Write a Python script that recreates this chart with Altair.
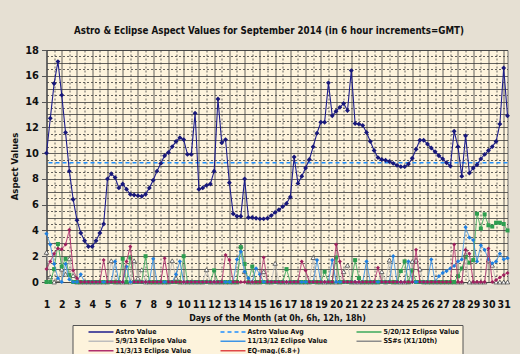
import altair as alt
import pandas as pd

FONT = "DejaVu Sans Condensed"

# ---- data (one value every 6 hours, starting Sep 1 0h) ----
astro = [
    10.0, 12.7, 15.4, 17.1, 14.5, 11.6, 8.6, 6.4,
    4.8, 3.8, 3.2, 2.75, 2.75, 3.2, 3.8, 4.5,
    8.0, 8.4, 8.1, 7.3, 7.6, 7.2, 6.8, 6.75,
    6.7, 6.65, 6.8, 7.3, 7.9, 8.6, 9.2, 9.8,
    10.05, 10.5, 10.9, 11.2, 11.05, 9.9, 9.9, 13.1,
    7.2, 7.3, 7.5, 7.6, 8.6, 14.2, 10.8, 11.05,
    7.7, 5.3, 5.1, 5.1, 8.0, 5.0, 5.0, 4.95,
    4.9, 4.9, 4.95, 5.15, 5.4, 5.6, 5.85, 6.1,
    6.6, 9.7, 7.65, 8.2, 8.85, 9.5, 10.5, 11.55,
    12.4, 12.4, 15.45, 12.9, 13.25, 13.55, 13.85, 13.3,
    16.4, 12.3, 12.25, 12.15, 11.6, 10.9, 10.2, 9.65,
    9.5, 9.45, 9.35, 9.2, 9.05, 8.95, 8.95, 9.15,
    9.6, 10.3, 11.0, 11.0, 10.7, 10.4, 10.1, 9.8,
    9.55, 9.25, 9.0, 11.7, 10.5, 8.2, 11.35, 8.45,
    8.85, 9.1, 9.55, 9.9, 10.2, 10.5, 10.9, 12.25,
    16.6, 12.9,
]
astro_avg = [9.25]

ecl_2012_05_20 = [
    0, 0, 1.0, 2.95, 1.2, 1.8, 0.55, 0,
    0, 0, 0, 0, 0, 0, 0, 0,
    0, 0, 0, 0, 1.8, 0, 1.9, 0,
    0, 0, 2.0, 0, 0, 0, 0, 0,
    0, 0, 0, 0, 2.0, 0, 0, 0,
    0, 0, 0, 0, 0.9, 0, 0, 0,
    0, 0, 0, 2.7, 1.4, 0, 1.2, 0,
    0, 0, 0, 0, 0, 0, 0, 1.0,
    0, 0, 0, 0, 0, 0, 0, 0,
    0, 0.8, 0, 0, 1.9, 0, 0, 0,
    0, 1.7, 0.3, 0, 0, 0, 0, 0,
    0, 0, 0, 0, 0, 0.85, 1.6, 0,
    0.9, 0, 0, 0, 0, 0, 0, 0,
    0, 0, 0, 0, 0.45, 1.05, 1.95, 1.5,
    1.7, 5.3, 4.15, 5.25, 4.4, 4.3, 4.6, 4.6,
    4.5, 4.0,
]

ecl_2013_05_09 = [
    2.3, 0.4, 0, 0.2, 1.0, 0.6, 1.8, 0.5,
    0, 0, 0, 0, 0, 0, 0, 0,
    0, 1.65, 0, 0, 0, 0, 0, 1.65,
    0.3, 0.95, 0, 0, 0, 0, 0, 0,
    0, 1.65, 0.3, 0, 0, 0, 0, 0,
    0, 0, 0.95, 0, 0, 0, 0, 0,
    0, 0, 0, 2.8, 0.8, 0, 0, 0,
    0, 0.8, 0, 0, 1.45, 0, 0, 0,
    0, 0, 0, 0, 0, 0, 1.9, 0,
    0, 0, 0, 0, 0, 0, 0.8, 1.3,
    0, 0, 0, 0, 0, 0, 0, 0,
    0.8, 0, 1.7, 0, 0, 0, 0, 0,
    1.6, 1.7, 1.0, 0, 0, 0, 0, 0,
    0, 0, 0, 0, 0, 0, 2.15, 0,
    0, 0, 0, 0, 1.7, 1.3, 0, 0,
    0, 0,
]

ecl_2012_11_13 = [
    3.75, 2.9, 1.4, 0.3, 0, 1.4, 0.2, 0,
    0, 0.6, 0, 0, 0, 0, 0, 0,
    0, 0, 1.6, 0, 0, 1.2, 0, 0,
    0, 0, 0, 0, 1.8, 0, 0, 0,
    0, 0, 0.6, 1.6, 0, 0, 0, 0,
    0, 0, 0, 0, 0, 0, 0, 0,
    0, 0, 1.75, 2.35, 0.8, 0.3, 0, 1.05,
    0.6, 0, 0, 0, 0, 0, 0, 0,
    0, 0, 0, 0, 0, 0, 0, 1.7,
    0, 0, 0, 1.7, 0, 0, 0, 0,
    0, 0, 0, 0, 1.6, 0, 0, 0,
    0, 0, 0, 2.0, 0, 0, 0, 1.6,
    0, 0, 0, 0, 0, 1.75, 0, 0.45,
    0.7, 0.85, 1.05, 1.25, 1.6, 1.75, 4.25, 3.45,
    3.25, 1.6, 2.85, 2.5, 1.75, 1.45, 1.6, 2.2,
    1.75, 1.85,
]

ecl_2013_11_03 = [
    1.0, 1.6, 2.2, 2.6, 2.55, 2.9, 4.05, 0.9,
    0.3, 0, 0, 0, 0, 0, 0, 1.7,
    0, 0, 0, 0, 0, 1.6, 2.75, 0,
    0, 0, 0, 0, 0, 0, 0, 1.85,
    0, 0, 0, 0, 0, 0, 0, 0,
    0, 0, 0, 0, 0, 0, 0, 2.1,
    1.7, 0, 0, 0, 0, 0, 0, 0,
    0, 1.9, 0, 0, 0, 0, 0, 0,
    0, 0, 0, 1.6, 0.9, 0, 0, 0,
    0, 0, 0, 0, 2.9, 1.6, 0, 0,
    0, 0, 0, 0, 0, 0, 0, 1.1,
    0, 0, 0, 0, 0, 0, 0, 0,
    0, 2.5, 0, 0, 0, 0, 0, 0,
    0, 0, 0, 2.9, 0, 0, 2.5, 2.2,
    0, 0, 0, 0, 2.6, 0, 0.15, 0.35,
    0.55, 0.7,
]

series_names = [
    "Astro Value", "Astro Value Avg", "5/20/12 Eclipse Value",
    "5/9/13 Eclipse Value", "11/13/12 Eclipse Value", "SS#s (X1/10th)",
    "11/3/13 Eclipse Value", "EQ-mag.(6.8+)",
]
series_colors = ["#1E1E8C", "#1E8FFF", "#3DAA5C", "#BDBDBD",
                 "#3D94E6", "#8C8C8C", "#B0306E", "#E04848"]
series_dashes = [[1, 0], [4, 3], [1, 0], [1, 0], [1, 0], [1, 0], [1, 0], [1, 0]]

n_points = len(astro)


def frame(name, values):
    return pd.DataFrame({"i": list(range(len(values))), "value": values, "series": name})


legend = alt.Legend(
    title=None, orient="none", legendX=26, legendY=275, columns=3, direction="horizontal",
    symbolType="stroke", symbolSize=625, symbolStrokeWidth=1.5,
    symbolOffset=12, labelOffset=1, clipHeight=7.5,
    labelFont=FONT, labelFontSize=7, labelFontWeight="bold", labelColor="#111",
    labelAlign="left", labelBaseline="middle",
    labelLimit=300, rowPadding=0.5, columnPadding=16,
    padding=3, fillColor="#FDF3DC", strokeColor="#555555",
)
color_enc = alt.Color("series:N", scale=alt.Scale(domain=series_names, range=series_colors), legend=legend)
dash_enc = alt.StrokeDash("series:N", scale=alt.Scale(domain=series_names, range=series_dashes), legend=legend)

x_axis = alt.Axis(
    values=list(range(0, n_points, 2)),
    labelExpr="datum.value % 4 === 0 ? '' + (datum.value / 4 + 1) : ''",
    labelOverlap=False, labelFlush=False,
    grid=True,
    gridDash={"condition": {"test": "datum.value % 4 !== 0", "value": [2, 2]}, "value": []},
    ticks=False, domain=False, labelPadding=17, labelFontSize=10.5,
    title="Days of the Month (at 0h, 6h, 12h, 18h)", titlePadding=4, titleFontSize=8.8,
)
y_axis = alt.Axis(
    values=[k * 0.5 for k in range(37)],
    labelExpr="datum.value % 2 === 0 ? '' + datum.value : ''",
    labelOverlap=False, labelFlush=False,
    grid=True,
    gridDash={"condition": {"test": "datum.value % 1 !== 0", "value": [2, 2]}, "value": []},
    tickOpacity={"condition": {"test": "datum.value % 2 !== 0", "value": 0}, "value": 1},
    tickSize=5, labelPadding=3, domain=True, domainColor="#555", labelFontSize=11,
    title="Aspect Values", titlePadding=5, titleFontSize=9.5,
)
x_enc = alt.X("i:Q", scale=alt.Scale(domain=[0, n_points - 1], nice=False, zero=False), axis=x_axis)
y_enc = alt.Y("value:Q", scale=alt.Scale(domain=[0, 18], nice=False), axis=y_axis)

avg_rule = alt.Chart(pd.DataFrame({"value": astro_avg, "series": "Astro Value Avg"})).mark_rule(
    strokeWidth=1.6).encode(y=y_enc, color=color_enc, strokeDash=dash_enc)

layers = [avg_rule]
specs = [
    ("5/9/13 Eclipse Value", ecl_2013_05_09, dict(shape="triangle-up", size=20, filled=True, fill="white", stroke="#333", strokeWidth=0.7, opacity=1)),
    ("5/20/12 Eclipse Value", ecl_2012_05_20, dict(shape="square", size=16, filled=True, color="#2E9E50", opacity=1)),
    ("11/13/12 Eclipse Value", ecl_2012_11_13, dict(shape="diamond", size=18, filled=True, color="#1F7FE0", opacity=1)),
    ("11/3/13 Eclipse Value", ecl_2013_11_03, dict(shape="diamond", size=16, filled=True, color="#A0205E", opacity=1)),
    ("Astro Value", astro, dict(shape="diamond", size=24, filled=True, color="#18187A", opacity=1)),
]
for name, vals, pt in specs:
    df = frame(name, vals)
    base = alt.Chart(df)
    layers.append(base.mark_line(strokeWidth=1.1 if name == "Astro Value" else 1.0).encode(
        x=x_enc, y=y_enc, color=color_enc, strokeDash=dash_enc))
    layers.append(base.mark_point(**pt).encode(x=x_enc, y=y_enc))

chart = alt.layer(*layers).properties(
    width=461, height=232,
    background="#E6E0D3",
    padding={"left": 46.5, "top": 50, "right": 12.5, "bottom": 72},
    autosize=alt.AutoSizeParams(type="none"),
    title=alt.Title(
        "Astro & Eclipse Aspect Values for September 2014 (in 6 hour increments=GMT)",
        font=FONT, fontSize=9.7, fontWeight="bold", color="#111", anchor="middle",
        frame="group", offset=8, dx=-8,
    ),
).configure_view(
    fill="#FDF3DC", stroke="#707070", strokeWidth=1,
).configure_axis(
    labelFont=FONT, labelFontWeight="bold", labelColor="#111",
    titleFont=FONT, titleFontWeight="bold", titleColor="#111",
    gridColor="#3c3c3c", gridWidth=0.8, gridOpacity=1, tickColor="#555",
)

chart.save("out.html", embed_options={"renderer": "svg", "actions": False})
